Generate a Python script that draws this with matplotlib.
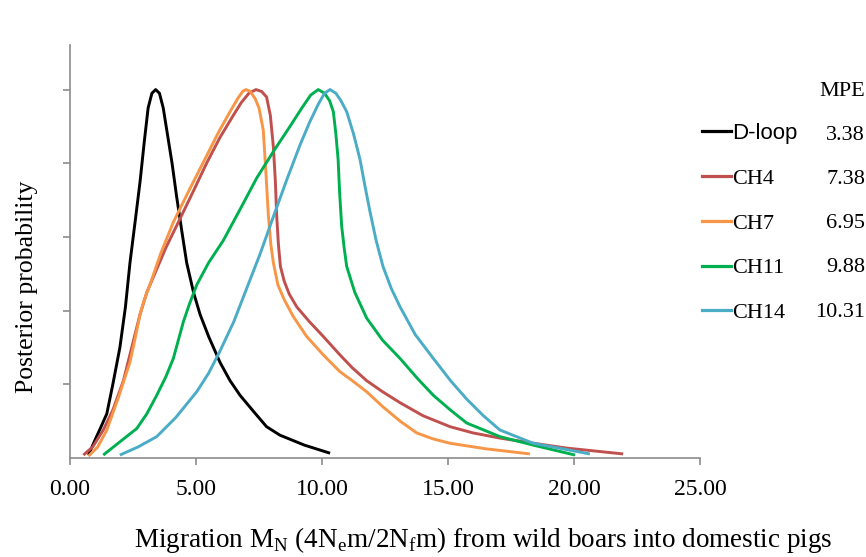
import matplotlib
matplotlib.use("Agg")
import matplotlib.pyplot as plt
from matplotlib.lines import Line2D

plt.rcParams["font.family"] = "Liberation Serif"

# curve data (x = migration rate, y = relative posterior probability)
dloop_x = [0.73, 1.0, 1.2, 1.46, 1.7, 1.98, 2.2, 2.38, 2.6, 2.78, 2.95, 3.1, 3.25, 3.40, 3.55, 3.7, 3.84,
           4.05, 4.23, 4.45, 4.63, 4.9, 5.16, 5.5, 5.95, 6.35, 6.75, 7.3, 7.80, 8.33, 9.3, 10.32]
dloop_y = [0.008, 0.05, 0.08, 0.12, 0.20, 0.30, 0.41, 0.53, 0.65, 0.75, 0.86, 0.95, 0.99, 1.0, 0.99, 0.95, 0.89,
           0.80, 0.71, 0.61, 0.53, 0.45, 0.39, 0.33, 0.26, 0.21, 0.17, 0.125, 0.085, 0.062, 0.035, 0.013]

ch4_x = [0.53, 0.9, 1.32, 1.7, 2.12, 2.45, 2.78, 3.05, 3.30, 3.8, 4.37, 4.9, 5.42, 5.95, 6.48, 6.8, 7.1, 7.38,
         7.6, 7.80, 7.95, 8.07, 8.15, 8.20, 8.27, 8.35, 8.5, 8.7, 9.0, 9.5, 10.05, 10.71, 11.2, 11.77, 12.4,
         13.1, 14.0, 15.08, 16.0, 17.06, 18.4, 19.7, 21.95]
ch4_y = [0.008, 0.03, 0.076, 0.13, 0.21, 0.30, 0.39, 0.45, 0.49, 0.57, 0.65, 0.725, 0.80, 0.87, 0.93, 0.965, 0.99, 1.0,
         0.995, 0.98, 0.93, 0.845, 0.75, 0.66, 0.58, 0.52, 0.48, 0.445, 0.41, 0.37, 0.33, 0.28, 0.245, 0.21, 0.18,
         0.15, 0.115, 0.085, 0.068, 0.054, 0.04, 0.027, 0.011]

ch7_x = [0.73, 1.1, 1.46, 1.9, 2.38, 2.6, 2.78, 2.95, 3.17, 3.6, 4.10, 4.75, 5.42, 5.9, 6.35, 6.65, 6.85, 6.98,
         7.15, 7.35, 7.5, 7.67, 7.77, 7.87, 7.97, 8.07, 8.25, 8.5, 8.86, 9.39, 10.05, 10.7, 11.2, 11.77, 12.4,
         13.1, 13.76, 14.4, 15.08, 16.5, 18.25]
ch7_y = [0.005, 0.03, 0.076, 0.16, 0.26, 0.33, 0.39, 0.43, 0.47, 0.555, 0.64, 0.73, 0.82, 0.885, 0.94, 0.975, 0.995, 1.0,
         0.995, 0.975, 0.95, 0.89, 0.78, 0.66, 0.58, 0.53, 0.47, 0.43, 0.384, 0.33, 0.28, 0.235, 0.21, 0.18, 0.14,
         0.10, 0.068, 0.052, 0.04, 0.025, 0.011]

ch11_x = [1.32, 2.0, 2.65, 3.05, 3.44, 3.8, 4.10, 4.30, 4.50, 4.75, 5.03, 5.5, 6.08, 6.75, 7.41, 8.1, 8.73, 9.2,
          9.55, 9.85, 10.1, 10.3, 10.45, 10.55, 10.64, 10.7, 10.78, 10.88, 10.98, 11.3, 11.77, 12.4, 13.1, 13.8,
          14.42, 15.1, 15.74, 17.06, 18.38, 20.04]
ch11_y = [0.008, 0.045, 0.08, 0.12, 0.17, 0.22, 0.27, 0.32, 0.37, 0.42, 0.47, 0.53, 0.59, 0.675, 0.76, 0.835, 0.90, 0.95,
          0.985, 1.0, 0.99, 0.97, 0.94, 0.88, 0.81, 0.72, 0.63, 0.57, 0.52, 0.45, 0.38, 0.32, 0.27, 0.215,
          0.17, 0.13, 0.095, 0.058, 0.035, 0.008]

ch14_x = [1.98, 2.7, 3.44, 4.2, 5.03, 5.5, 5.95, 6.5, 7.01, 7.55, 8.07, 8.6, 9.13, 9.5, 9.85, 10.1, 10.32, 10.55,
          10.75, 10.98, 11.25, 11.51, 11.7, 11.9, 12.15, 12.42, 12.75, 13.1, 13.7, 14.42, 15.1, 15.74, 16.4, 17.06,
          18.38, 20.63]
ch14_y = [0.008, 0.03, 0.058, 0.11, 0.18, 0.23, 0.29, 0.37, 0.46, 0.555, 0.655, 0.755, 0.85, 0.91, 0.96, 0.99, 1.0, 0.99,
          0.97, 0.94, 0.88, 0.81, 0.74, 0.67, 0.59, 0.52, 0.46, 0.41, 0.335, 0.27, 0.21, 0.16, 0.115, 0.076,
          0.04, 0.011]

labels = ["D-loop", "CH4", "CH7", "CH11", "CH14"]
mpe = ["3.38", "7.38", "6.95", "9.88", "10.31"]
colors = ["#000000", "#C0504D", "#F79646", "#00B050", "#4BACC6"]
xticks = [0, 5, 10, 15, 20, 25]

series = [(dloop_x, dloop_y), (ch4_x, ch4_y), (ch7_x, ch7_y), (ch11_x, ch11_y), (ch14_x, ch14_y)]

fig = plt.figure(figsize=(8.66, 5.57), dpi=100)
ax = fig.add_axes([70 / 866, 1 - 458 / 557, 630 / 866, 413 / 557])

for (xs, ys), c in zip(series, colors):
    ax.plot(xs, ys, color=c, lw=2.1, solid_joinstyle="round", solid_capstyle="butt")

ax.set_xlim(0, 25)
ax.set_ylim(0, 1.121)
ax.set_xticks(xticks)
ax.set_xticklabels(["%.2f" % v for v in xticks], fontsize=17)
ax.set_yticks([0.2, 0.4, 0.6, 0.8, 1.0])
ax.set_yticklabels([])
for s in ["top", "right"]:
    ax.spines[s].set_visible(False)
for s in ["left", "bottom"]:
    ax.spines[s].set_color("#8c8c8c")
    ax.spines[s].set_linewidth(1.2)
ax.tick_params(direction="out", length=5, width=1.2, color="#8c8c8c", pad=10)

fig.text(483 / 866, 1 - 540 / 557,
         "Migration M$_\\mathregular{N}$ (4N$_\\mathregular{e}$m/2N$_\\mathregular{f}$m) from wild boars into domestic pigs",
         ha="center", va="center", fontsize=19.5)
fig.text(27 / 866, 1 - 287 / 557, "Posterior probability", rotation=90,
         ha="center", va="center", fontsize=18.5)

handles = [Line2D([], [], color=c, lw=2.3) for c in colors]
leg = fig.legend(handles, labels, loc="upper left", bbox_to_anchor=(702 / 866, 1 - 123 / 557),
                 frameon=False, fontsize=16, handlelength=1.3, handletextpad=0.05,
                 labelspacing=1.09, borderpad=0, borderaxespad=0)
leg.get_texts()[0].set_fontfamily("Liberation Sans")

fig.text(865 / 866, 1 - 92 / 557, "MPE", ha="right", va="center", fontsize=16)
for i, v in enumerate(mpe):
    fig.text(865 / 866, 1 - (135 + i * 44.3) / 557, v, ha="right", va="center", fontsize=16)

fig.savefig("out.png", dpi=100)
